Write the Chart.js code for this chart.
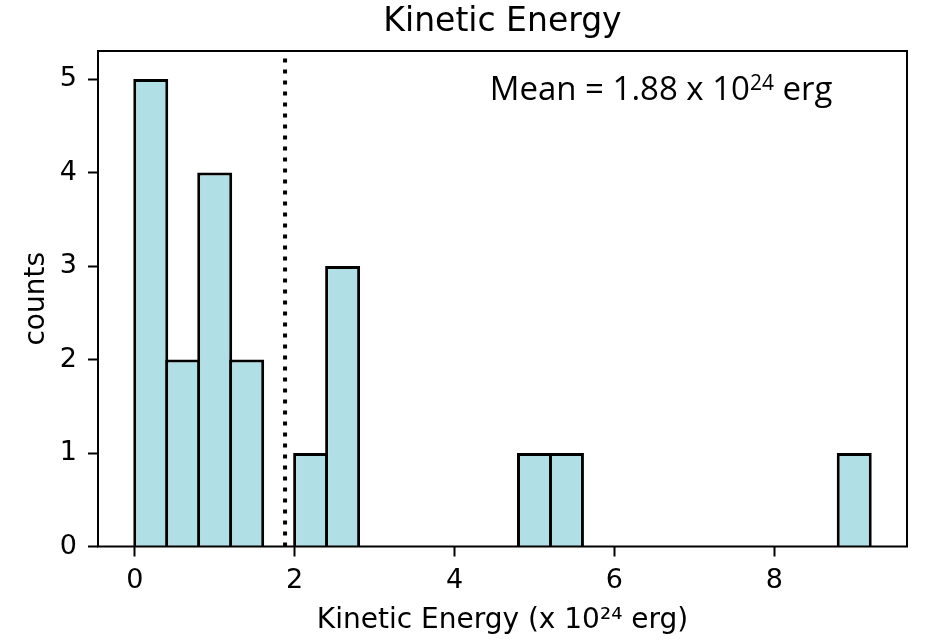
<!DOCTYPE html>
<html>
<head>
<meta charset="utf-8">
<script src="https://cdn.jsdelivr.net/npm/chart.js@4.4.1/dist/chart.umd.min.js"></script>
<style>
  body { margin: 0; background: #fff; }
</style>
</head>
<body>
<canvas id="keHist" width="928" height="639"></canvas>
<script>
// kinetic energy histogram, bins of 0.4 (x 10^24 erg)
const binStarts = [0, 0.4, 0.8, 1.2, 1.6, 2.0, 2.4, 2.8, 3.2, 3.6, 4.0, 4.4,
                   4.8, 5.2, 5.6, 6.0, 6.4, 6.8, 7.2, 7.6, 8.0, 8.4, 8.8];
const binCounts = [5, 2, 4, 2, 0, 1, 3, 0, 0, 0, 0, 0,
                   1, 1, 0, 0, 0, 0, 0, 0, 0, 0, 1];
const binWidth = 0.4;
const meanEnergy = 1.88;
const xTicks = [0, 2, 4, 6, 8];
const yTicks = [0, 1, 2, 3, 4, 5];

// where the "Mean = ..." text sits, in data units
const meanLabelAt = { x: 4.44, y: 4.78 };

Chart.defaults.font.family = "'DejaVu Sans'";
Chart.defaults.color = "#000";

const tickGrid = {
    display: true,
    drawOnChartArea: false,
    drawTicks: true,
    tickLength: 10,
    tickWidth: 2,
    tickColor: "#000",
};

// mean line, frame and the annotation
const extras = {
    id: "extras",
    afterDatasetsDraw(chart) {
        const { ctx, chartArea: a, scales: { x, y } } = chart;
        ctx.save();

        const mx = x.getPixelForValue(meanEnergy);
        ctx.strokeStyle = "#000";
        ctx.lineWidth = 4;
        ctx.setLineDash([4, 7]);
        ctx.beginPath();
        ctx.moveTo(mx, a.bottom);
        ctx.lineTo(mx, a.top);
        ctx.stroke();
        ctx.setLineDash([]);

        ctx.lineWidth = 2;
        ctx.strokeRect(a.left, a.top, a.right - a.left, a.bottom - a.top);

        let tx = x.getPixelForValue(meanLabelAt.x);
        const ty = y.getPixelForValue(meanLabelAt.y);
        ctx.fillStyle = "#000";
        ctx.textBaseline = "alphabetic";
        ctx.textAlign = "left";
        ctx.font = "33px 'Open Sans'";
        const part1 = "Mean = " + meanEnergy.toFixed(2) + " x 10";
        ctx.fillText(part1, tx, ty);
        tx += ctx.measureText(part1).width;
        ctx.font = "21px 'Open Sans'";
        ctx.fillText("24", tx, ty - 10);
        tx += ctx.measureText("24").width;
        ctx.font = "33px 'Open Sans'";
        ctx.fillText(" erg", tx, ty);

        ctx.restore();
    },
};

const keChart = new Chart(document.getElementById("keHist"), {
    type: "bar",
    data: {
        datasets: [
            {
                label: "counts",
                data: binStarts.map((s, i) => ({ x: s + binWidth / 2, y: binCounts[i] })),
                backgroundColor: "#b0e0e6",
                borderColor: "#000",
                borderWidth: 3,
                borderSkipped: "start",
                barPercentage: 1.094,
                categoryPercentage: 1,
            },
        ],
    },
    options: {
        responsive: false,
        animation: false,
        layout: { padding: { left: 0, right: 21, top: 0, bottom: 0 } },
        plugins: {
            legend: { display: false },
            tooltip: { enabled: false },
            title: {
                display: true,
                fullSize: false,
                text: "Kinetic Energy",
                color: "#000",
                font: { size: 33, weight: "normal" },
                padding: { top: 3, bottom: 8.4 },
            },
        },
        scales: {
            x: {
                type: "linear",
                min: -0.46,
                max: 9.66,
                offset: false,
                afterBuildTicks: (s) => { s.ticks = xTicks.map((v) => ({ value: v })); },
                afterFit: (s) => { s.height = 92.5; },
                grid: { ...tickGrid, offset: false },
                border: { display: false },
                ticks: { font: { size: 27 }, padding: 8, maxRotation: 0 },
                title: {
                    display: true,
                    text: "Kinetic Energy (x 10²⁴ erg)",
                    font: { size: 28 },
                    padding: { top: 0, bottom: 1 },
                },
            },
            y: {
                min: 0,
                max: 5.3,
                afterBuildTicks: (s) => { s.ticks = yTicks.map((v) => ({ value: v })); },
                afterFit: (s) => { s.width = 98; },
                grid: tickGrid,
                border: { display: false },
                ticks: { font: { size: 27 }, padding: 11 },
                title: {
                    display: true,
                    text: "counts",
                    font: { size: 28 },
                    padding: { top: 20, bottom: 0 },
                },
            },
        },
    },
    plugins: [extras],
});
</script>
</body>
</html>
